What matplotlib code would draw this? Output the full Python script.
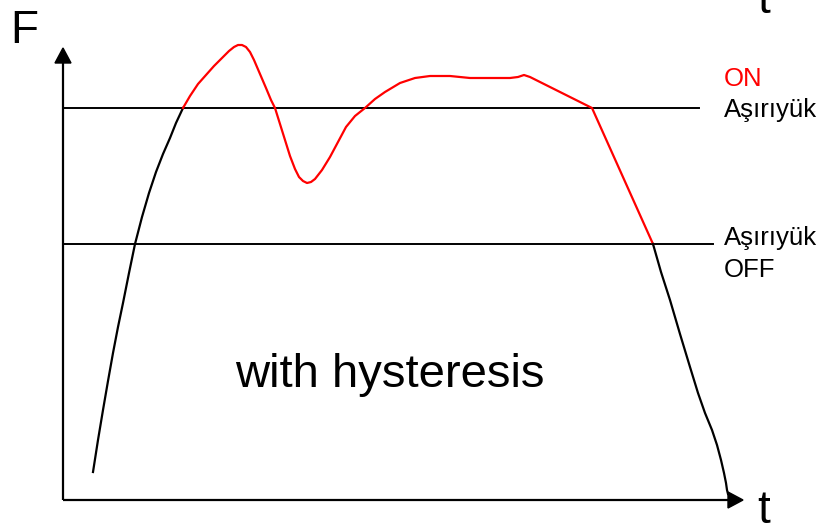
import matplotlib
matplotlib.use("Agg")
import matplotlib.pyplot as plt
from matplotlib.patches import Polygon

plt.rcParams['font.family'] = ['Liberation Sans', 'DejaVu Sans']

# Data (t, F) in chart units (origin at the axes corner)
rise_t = [30, 35, 40, 45, 50, 55, 60, 66, 72, 79, 86, 93, 100, 107, 113, 120]
rise_F = [28, 60, 90, 119, 147, 173, 197, 227, 256, 283, 307, 328, 346, 362, 377, 392]

on_t = [120, 127, 135, 143, 151, 159, 166, 171, 175, 179, 183, 187, 191, 197, 203, 208, 212,
        217, 222, 227, 232, 236, 240, 244, 248, 252, 259, 267, 275, 283, 292, 302, 312,
        322, 337, 352, 367, 387, 407, 427, 447, 455, 461, 467, 529, 590]
on_F = [392, 404, 416, 425, 434, 442, 449, 453, 455, 455, 453, 448, 440, 426, 412, 400, 392,
        376, 360, 344, 331, 323, 319, 317, 318, 321, 330, 343, 358, 373, 384, 392, 401,
        408, 417, 422, 424, 424, 422, 422, 422, 423, 425, 423, 392, 256]

fall_t = [590, 598, 607, 617, 627, 635, 642, 649, 654, 658, 661, 663, 664, 665]
fall_F = [256, 228, 200, 166, 133, 107, 87, 70, 55, 40, 27, 17, 10, 6]

threshold_on = 392
threshold_off = 256
on_line_end = 636
off_line_end = 650

fig = plt.figure(figsize=(8.23, 5.25), dpi=100)
ax = fig.add_axes([0, 0, 1, 1])
ax.set_xlim(-63, 760)
ax.set_ylim(-25, 500)
ax.axis('off')

# axes with arrows
ax.plot([0, 0], [0, 440], color='black', lw=1.6, solid_capstyle='butt')
ax.plot([0, 668], [0, 0], color='black', lw=1.6, solid_capstyle='butt')
ax.add_patch(Polygon([[-8, 437], [8, 437], [0, 452]], closed=True, color='black'))
ax.add_patch(Polygon([[665, 8], [665, -8], [680, 0]], closed=True, color='black'))

# threshold lines
ax.plot([0, on_line_end], [threshold_on, threshold_on], color='black', lw=1.4)
ax.plot([0, off_line_end], [threshold_off, threshold_off], color='black', lw=1.4)

# curve
ax.plot(rise_t, rise_F, color='black', lw=1.6, solid_joinstyle='round')
ax.plot(on_t, on_F, color='#ff0000', lw=1.6, solid_joinstyle='round')
ax.plot(fall_t, fall_F, color='black', lw=1.6, solid_joinstyle='round')

# texts
ax.text(-53, 457, 'F', fontsize=33, va='baseline', ha='left')
ax.text(694, -23, 't', fontsize=33, va='baseline', ha='left')
ax.text(694, 487, 't', fontsize=33, va='baseline', ha='left')
ax.text(661, 414, 'ON', fontsize=18.5, color='#ff0000', va='baseline', ha='left')
ax.text(661, 383, 'Aşırıyük', fontsize=18.5, va='baseline', ha='left')
ax.text(661, 255, 'Aşırıyük', fontsize=18.5, va='baseline', ha='left')
ax.text(661, 223, 'OFF', fontsize=18.5, va='baseline', ha='left')
ax.text(327, 113, 'with hysteresis', fontsize=34, va='baseline', ha='center')

fig.savefig('out.png', dpi=100)
